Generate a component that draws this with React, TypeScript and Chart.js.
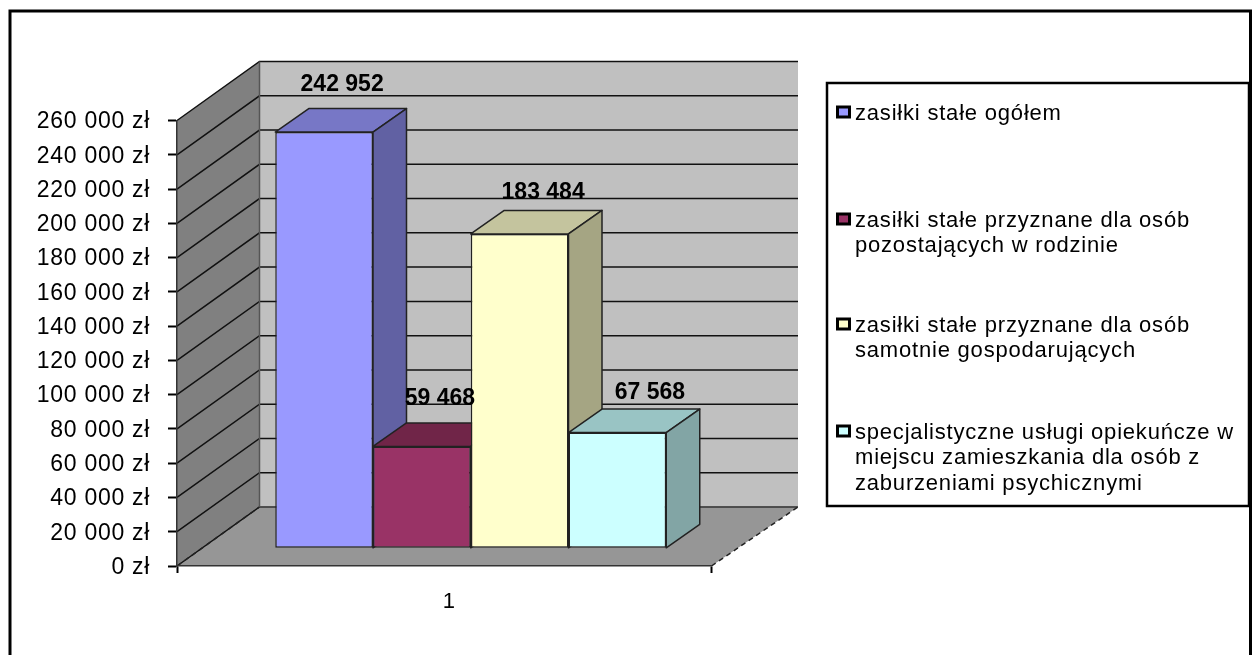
import React, { useEffect, useRef } from "react";
import { Chart, registerables } from "chart.js";

Chart.register(...registerables);

const categories = ["1"];
const seriesNames = [
  "zasiłki stałe ogółem",
  "zasiłki stałe przyznane dla osób pozostających w rodzinie",
  "zasiłki stałe przyznane dla osób samotnie gospodarujących",
  "specjalistyczne usługi opiekuńcze w miejscu zamieszkania dla osób z zaburzeniami psychicznymi",
];
const ogolem = [242952];
const rodzina = [59468];
const samotnie = [183484];
const uslugi = [67568];
const seriesValues = [ogolem, rodzina, samotnie, uslugi];

const legendLines = [
  ["zasiłki stałe ogółem"],
  ["zasiłki stałe przyznane dla osób", "pozostających w rodzinie"],
  ["zasiłki stałe przyznane dla osób", "samotnie gospodarujących"],
  ["specjalistyczne usługi opiekuńcze w", "miejscu zamieszkania dla osób z", "zaburzeniami psychicznymi"],
];

const frontColors = ["#9999FF", "#993366", "#FFFFCC", "#CCFFFF"];
const topColors = ["#7777C6", "#702548", "#C4C49E", "#99C4C4"];
const sideColors = ["#6161A3", "#5E2040", "#A5A583", "#82A5A5"];

const FONT = '"Liberation Sans", Arial, sans-serif';
const AREA = { left: 177, right: 711.5, top: 120.5, bottom: 566 };
const WALL = { dx: 82.5, dy: -59 };
const BAR_SHIFT = { dx: 26.5, dy: -17.7 };
const BAR_DEPTH = { dx: 33.5, dy: -23.5 };
const LABEL_SHIFT = [
  { dx: 18, dy: -47.7 },
  { dx: 18, dy: -47.7 },
  { dx: 23.5, dy: -41 },
  { dx: 32.5, dy: -39.5 },
];
const LEGEND_BOX = { left: 827, top: 83, right: 1249, bottom: 506 };
const LEGEND_Y = [113, 220, 325, 432];
const LEGEND_LEADING = 25.4;

const fmt = (v: number) => String(v).replace(/\B(?=(\d{3})+$)/g, " ");

function poly(ctx: CanvasRenderingContext2D, pts: number[][], fill: string, stroke?: string, lw = 1.5) {
  ctx.beginPath();
  pts.forEach((p, i) => (i ? ctx.lineTo(p[0], p[1]) : ctx.moveTo(p[0], p[1])));
  ctx.closePath();
  ctx.fillStyle = fill;
  ctx.fill();
  if (stroke) {
    ctx.strokeStyle = stroke;
    ctx.lineWidth = lw;
    ctx.lineJoin = "round";
    ctx.stroke();
  }
}

const frame3d = {
  id: "frame3d",
  beforeDraw(chart: any) {
    const { ctx, scales } = chart;
    const a = chart.chartArea;
    const bx = a.left + WALL.dx;
    const rx = a.right + WALL.dx + 4;
    const by = a.bottom + WALL.dy;
    const ty = a.top + WALL.dy;
    ctx.save();
    // outer frame, open at the bottom edge of the picture
    ctx.strokeStyle = "#000";
    ctx.lineWidth = 3;
    ctx.beginPath();
    ctx.moveTo(10, 660);
    ctx.lineTo(10, 11);
    ctx.lineTo(1250.5, 11);
    ctx.lineTo(1250.5, 660);
    ctx.stroke();

    poly(ctx, [[bx, ty], [rx, ty], [rx, by], [bx, by]], "#C0C0C0");
    poly(ctx, [[a.left, a.top], [bx, ty], [bx, by], [a.left, a.bottom]], "#808080");
    poly(ctx, [[a.left, a.bottom], [bx, by], [rx, by], [a.right, a.bottom]], "#969696");

    ctx.strokeStyle = "#111";
    ctx.lineWidth = 1.5;
    scales.y.ticks.forEach((t: any) => {
      const y = scales.y.getPixelForValue(t.value);
      ctx.beginPath();
      ctx.moveTo(a.left, y);
      ctx.lineTo(bx, y + WALL.dy);
      ctx.lineTo(rx, y + WALL.dy);
      ctx.stroke();
    });
    ctx.strokeStyle = "#555";
    ctx.lineWidth = 1.5;
    ctx.beginPath();
    ctx.moveTo(bx, ty);
    ctx.lineTo(bx, by);
    ctx.lineTo(rx, by);
    ctx.stroke();
    ctx.strokeStyle = "#222";
    ctx.setLineDash([5, 4]);
    ctx.lineWidth = 1.5;
    ctx.beginPath();
    ctx.moveTo(a.left, a.bottom);
    ctx.lineTo(bx, by);
    ctx.moveTo(a.right, a.bottom);
    ctx.lineTo(rx, by);
    ctx.stroke();
    ctx.restore();
    ctx.letterSpacing = "0.7px";
  },
  beforeDatasetsDraw(chart: any) {
    chart.ctx.letterSpacing = "0px";
  },
  // the library would paint the last dataset first; the bars are painted left to right below
  beforeDatasetDraw() {
    return false;
  },
  afterDatasetsDraw(chart: any) {
    const { ctx } = chart;
    const d = BAR_DEPTH;
    chart.data.datasets.forEach((_: any, i: number) => {
      const meta = chart.getDatasetMeta(i);
      const bar = meta.data[0];
      const l = bar.x - bar.width / 2;
      const r = bar.x + bar.width / 2;
      const { y, base } = bar;
      ctx.save();
      ctx.translate(BAR_SHIFT.dx, BAR_SHIFT.dy);
      poly(ctx, [[l, y], [l + d.dx, y + d.dy], [r + d.dx, y + d.dy], [r, y]], topColors[i], "#222");
      poly(ctx, [[r, y], [r + d.dx, y + d.dy], [r + d.dx, base + d.dy], [r, base]], sideColors[i], "#222");
      meta.controller.draw();
      ctx.restore();
    });
    ctx.save();
    ctx.font = `bold 23px ${FONT}`;
    ctx.fillStyle = "#000";
    ctx.textAlign = "center";
    ctx.textBaseline = "middle";
    chart.data.datasets.forEach((ds: any, i: number) => {
      const bar = chart.getDatasetMeta(i).data[0];
      ctx.fillText(
        fmt(ds.data[0]),
        bar.x + BAR_SHIFT.dx + LABEL_SHIFT[i].dx,
        bar.y + BAR_SHIFT.dy + LABEL_SHIFT[i].dy
      );
    });
    ctx.restore();
  },
  afterDraw(chart: any) {
    const { ctx } = chart;
    const b = LEGEND_BOX;
    ctx.save();
    ctx.fillStyle = "#fff";
    ctx.fillRect(b.left, b.top, b.right - b.left, b.bottom - b.top);
    ctx.strokeStyle = "#000";
    ctx.lineWidth = 2.5;
    ctx.strokeRect(b.left, b.top, b.right - b.left, b.bottom - b.top);
    ctx.font = `22px ${FONT}`;
    ctx.letterSpacing = "0.8px";
    ctx.textBaseline = "middle";
    ctx.textAlign = "left";
    legendLines.forEach((lines, i) => {
      const y0 = LEGEND_Y[i];
      ctx.fillStyle = frontColors[i];
      ctx.strokeStyle = "#000";
      ctx.lineWidth = 3;
      ctx.fillRect(837.5, y0 - 6, 12, 10);
      ctx.strokeRect(837.5, y0 - 6, 12, 10);
      ctx.fillStyle = "#000";
      lines.forEach((t, k) => ctx.fillText(t, 855, y0 + 1 + k * LEGEND_LEADING));
    });
    ctx.restore();
  },
};

export default function App() {
  const ref = useRef<HTMLCanvasElement>(null);
  useEffect(() => {
    const chart = new Chart(ref.current!, {
      type: "bar",
      data: {
        labels: categories,
        datasets: seriesNames.map((label, i) => ({
          label,
          data: seriesValues[i],
          backgroundColor: frontColors[i],
          borderColor: "#222",
          borderWidth: 1.5,
          borderSkipped: false,
        })),
      },
      options: {
        responsive: false,
        animation: false,
        devicePixelRatio: 1,
        layout: {
          padding: { top: AREA.top, left: 0, right: 1253 - AREA.right, bottom: 0 },
        },
        plugins: { legend: { display: false }, title: { display: false }, tooltip: { enabled: false } },
        datasets: { bar: { categoryPercentage: 391 / 534.5, barPercentage: 1 } },
        scales: {
          x: {
            type: "category",
            afterFit: (s: any) => {
              s.height = 655 - AREA.bottom;
            },
            grid: { drawOnChartArea: false, drawTicks: true, tickLength: 7, tickWidth: 2, tickColor: "#000" },
            border: { display: true, color: "#333", width: 1.5 },
            ticks: { color: "#000", font: { family: FONT, size: 22 }, padding: 16, labelOffset: 5 },
          },
          y: {
            type: "linear",
            min: 0,
            max: 260000,
            afterFit: (s: any) => {
              s.width = AREA.left;
            },
            grid: { drawOnChartArea: false, drawTicks: true, tickLength: 9, tickWidth: 2, tickColor: "#000" },
            border: { display: true, color: "#333", width: 1.5 },
            ticks: {
              stepSize: 20000,
              autoSkip: false,
              color: "#000",
              padding: 18,
              labelOffset: 1.5,
              font: { family: FONT, size: 23 },
              callback: (v: any) => `${fmt(Number(v))} zł`,
            },
          },
        },
      },
      plugins: [frame3d],
    } as any);
    return () => chart.destroy();
  }, []);
  return (
    <canvas
      ref={ref}
      width={1253}
      height={655}
      style={{ position: "fixed", left: 0, top: 0, width: 1253, height: 655, display: "block" }}
    />
  );
}
